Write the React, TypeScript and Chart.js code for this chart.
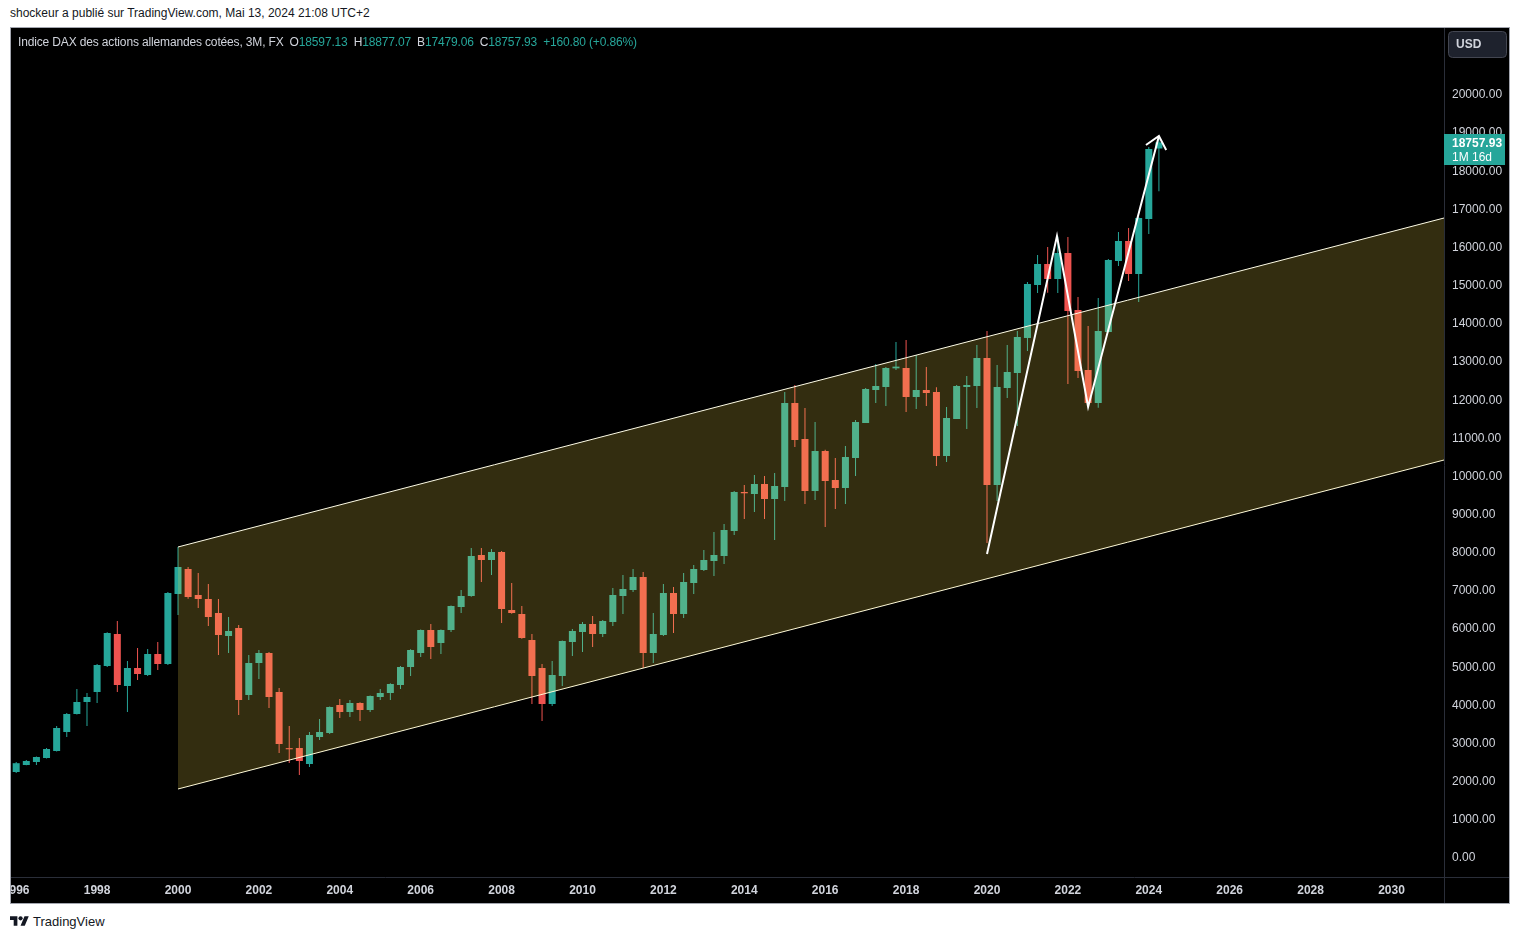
import React, { useEffect, useRef } from "react";
import { Chart, registerables } from "chart.js";

Chart.register(...registerables);

const FONT = "'Liberation Sans', Arial, sans-serif";

// Quarter start (decimal year) of each 3M candle
const quarters: number[] = [
  1996, 1996.25, 1996.5, 1996.75,
  1997, 1997.25, 1997.5, 1997.75,
  1998, 1998.25, 1998.5, 1998.75,
  1999, 1999.25, 1999.5, 1999.75,
  2000, 2000.25, 2000.5, 2000.75,
  2001, 2001.25, 2001.5, 2001.75,
  2002, 2002.25, 2002.5, 2002.75,
  2003, 2003.25, 2003.5, 2003.75,
  2004, 2004.25, 2004.5, 2004.75,
  2005, 2005.25, 2005.5, 2005.75,
  2006, 2006.25, 2006.5, 2006.75,
  2007, 2007.25, 2007.5, 2007.75,
  2008, 2008.25, 2008.5, 2008.75,
  2009, 2009.25, 2009.5, 2009.75,
  2010, 2010.25, 2010.5, 2010.75,
  2011, 2011.25, 2011.5, 2011.75,
  2012, 2012.25, 2012.5, 2012.75,
  2013, 2013.25, 2013.5, 2013.75,
  2014, 2014.25, 2014.5, 2014.75,
  2015, 2015.25, 2015.5, 2015.75,
  2016, 2016.25, 2016.5, 2016.75,
  2017, 2017.25, 2017.5, 2017.75,
  2018, 2018.25, 2018.5, 2018.75,
  2019, 2019.25, 2019.5, 2019.75,
  2020, 2020.25, 2020.5, 2020.75,
  2021, 2021.25, 2021.5, 2021.75,
  2022, 2022.25, 2022.5, 2022.75,
  2023, 2023.25, 2023.5, 2023.75,
  2024, 2024.25,
];

const opens: number[] = [
  2254, 2438, 2516, 2621,
  2805, 3303, 3775, 4089,
  4351, 5033, 5871, 4508,
  4980, 4797, 5347, 5085,
  6920, 7575, 6894, 6789,
  6422, 5819, 6029, 4273,
  5111, 5374, 4351, 2880,
  2883, 2464, 3172, 3277,
  4010, 3827, 4063, 3880,
  4220, 4325, 4535, 5007,
  5374, 5977, 5636, 5977,
  6579, 6868, 7942, 7811,
  8021, 6500, 6396, 5714,
  4980, 4037, 4771, 5662,
  5924, 6134, 5872, 6186,
  6868, 7025, 7366, 5374,
  5845, 6946, 6396, 7208,
  7549, 7785, 7916, 8571,
  9594, 9541, 9803, 9410,
  9725, 11927, 10983, 9620,
  10668, 9908, 9698, 10485,
  11402, 12267, 12346, 12835,
  12844, 12084, 12267, 12215,
  10537, 11507, 12346, 12372,
  13106, 9777, 12320, 12713,
  13631, 15020, 15570, 15177,
  15858, 14364, 12792, 11927,
  13788, 15649, 16173, 15308,
  16750, 18597.13,
];

const highs: number[] = [
  2516, 2569, 2660, 2883,
  3460, 3801, 4430, 4325,
  5085, 5920, 6212, 5164,
  5505, 5478, 5662, 6973,
  8152, 7628, 7470, 7182,
  6789, 6317, 6107, 5321,
  5452, 5400, 4456, 3460,
  3145, 3303, 3644, 3970,
  4168, 4142, 4080, 4260,
  4430, 4580, 5030, 5470,
  5990, 6134, 5990, 6620,
  7025, 8126, 8126, 8100,
  8050, 7208, 6605, 5871,
  5085, 5164, 5700, 6003,
  6186, 6343, 6238, 7077,
  7418, 7575, 7497, 6422,
  7182, 7103, 7470, 7680,
  8073, 8545, 8755, 9620,
  9777, 10039, 10013, 10092,
  12215, 12398, 11796, 11429,
  10700, 10485, 10800, 11480,
  12320, 12949, 12870, 13526,
  13578, 13185, 12870, 12340,
  11822, 12400, 12634, 13447,
  13814, 12923, 13447, 13814,
  15100, 15806, 16016, 16290,
  16278, 14705, 13945, 14679,
  15700, 16409, 16514, 16800,
  18640, 18877.07,
];

const lows: number[] = [
  2228, 2430, 2438, 2610,
  2790, 3172, 3760, 3460,
  4063, 5007, 4351, 3827,
  4666, 4771, 4928, 5059,
  6370, 6795, 6553, 6081,
  5321, 5374, 3748, 4142,
  4692, 3932, 2752, 2490,
  2176, 2385, 3093, 3250,
  3670, 3696, 3591, 3827,
  4142, 4142, 4430, 4771,
  5269, 5216, 5347, 5924,
  6422, 6850, 7235, 7418,
  6160, 6400, 5750, 4037,
  3591, 3984, 4509, 5295,
  5400, 5531, 5793, 6081,
  6396, 6973, 4980, 5111,
  5820, 5898, 6291, 6920,
  7523, 7392, 7706, 8467,
  8886, 9069, 8886, 8336,
  9358, 10773, 9279, 9384,
  8676, 9148, 9279, 10013,
  11400, 11927, 11848, 12792,
  11691, 11770, 11848, 10275,
  10380, 11507, 11245, 11796,
  8256, 9358, 12058, 11324,
  13290, 14810, 14818, 14810,
  12425, 12582, 11822, 11800,
  13780, 15518, 15124, 14574,
  16356, 17479.06,
];

const closes: number[] = [
  2485, 2543, 2647, 2857,
  3408, 3775, 4089, 4220,
  5059, 5898, 4535, 4980,
  4823, 5347, 5085, 6946,
  7628, 6841, 6789, 6317,
  5845, 5950, 4142, 5111,
  5374, 4220, 2988, 2850,
  2543, 3224, 3303, 3958,
  3827, 4063, 3880, 4246,
  4325, 4561, 5007, 5452,
  5977, 5531, 5977, 6605,
  6868, 7916, 7811, 8021,
  6527, 6422, 5767, 4771,
  4037, 4797, 5688, 5950,
  6134, 5872, 6212, 6894,
  7051, 7366, 5374, 5872,
  6946, 6396, 7235, 7575,
  7811, 7942, 8598, 9594,
  9560, 9803, 9410, 9751,
  11927, 10957, 9620, 10668,
  9882, 9698, 10511, 11429,
  12294, 12372, 12844, 12880,
  12084, 12267, 12189, 10537,
  11534, 12372, 12398, 13106,
  9777, 12346, 12739, 13657,
  15046, 15570, 15177, 15858,
  14338, 12765, 11927, 13814,
  15675, 16173, 15308, 16776,
  18585, 18757.93,
];

// Parallel channel (drawn object)
const channelX: number[] = [2000, 2031.3];
const channelUpper: number[] = [8152, 16776];
const channelLower: number[] = [1809, 10433];

// White zig-zag arrow
const zigX: number[] = [2020.0, 2021.73, 2022.5, 2024.25];
const zigY: number[] = [7968, 16304, 11822, 18925];
const arrowX: number[] = [2023.93, 2024.25, 2024.43];
const arrowY: number[] = [18689, 18925, 18558];

// Axis ticks
const xTicks: number[] = [
  1996, 1998, 2000, 2002, 2004, 2006, 2008, 2010, 2012,
  2014, 2016, 2018, 2020, 2022, 2024, 2026, 2028, 2030,
];
const yTicks: number[] = [
  0, 1000, 2000, 3000, 4000, 5000, 6000, 7000, 8000, 9000, 10000,
  11000, 12000, 13000, 14000, 15000, 16000, 17000, 18000, 19000, 20000,
];

const X_MIN = 1995.8715;
const X_MAX = 2031.298;
const Y_MIN = -498;
const Y_MAX = 21756;

const UP = "#26a69a";
const DOWN = "#ef5350";

const overlayPlugin = {
  id: "tvOverlay",
  afterDraw(chart: any) {
    const { ctx, chartArea, scales } = chart;
    ctx.save();
    // separators
    ctx.strokeStyle = "#2a2e39";
    ctx.lineWidth = 1;
    ctx.beginPath();
    ctx.moveTo(Math.round(chartArea.right) + 0.5, 0);
    ctx.lineTo(Math.round(chartArea.right) + 0.5, chart.height);
    ctx.moveTo(0, Math.round(chartArea.bottom) + 0.5);
    ctx.lineTo(chart.width, Math.round(chartArea.bottom) + 0.5);
    ctx.stroke();

    // USD box
    const bx = chartArea.right + 4;
    const by = 3;
    const bw = 58;
    const bh = 26;
    ctx.fillStyle = "#1e222d";
    ctx.strokeStyle = "#434651";
    ctx.beginPath();
    if (ctx.roundRect) ctx.roundRect(bx + 0.5, by + 0.5, bw, bh, 4);
    else ctx.rect(bx + 0.5, by + 0.5, bw, bh);
    ctx.fill();
    ctx.stroke();
    ctx.fillStyle = "#d1d4dc";
    ctx.font = `bold 12px ${FONT}`;
    ctx.textBaseline = "middle";
    ctx.textAlign = "left";
    ctx.fillText("USD", bx + 8, by + bh / 2 + 1);

    // last price label
    const last = closes[closes.length - 1];
    const y = scales.y.getPixelForValue(last);
    ctx.fillStyle = UP;
    ctx.fillRect(chartArea.right, Math.round(y - 8), 61, 31);
    ctx.fillStyle = "#ffffff";
    ctx.font = `bold 12px ${FONT}`;
    ctx.fillText(last.toFixed(2), chartArea.right + 8, y + 1);
    ctx.font = `12px ${FONT}`;
    ctx.fillText("1M 16d", chartArea.right + 8, y + 15);
    ctx.restore();
  },
};

function ChartCanvas() {
  const ref = useRef<HTMLCanvasElement | null>(null);
  useEffect(() => {
    if (!ref.current) return;
    Chart.defaults.font.family = FONT;
    const colors = quarters.map((_, i) => (closes[i] >= opens[i] ? UP : DOWN));
    const chart = new Chart(ref.current, {
      type: "bar",
      data: {
        datasets: [
          {
            type: "line",
            label: "zigzag",
            data: zigX.map((x, i) => ({ x, y: zigY[i] })),
            borderColor: "#ffffff",
            borderWidth: 2,
            pointRadius: 0,
            tension: 0,
            fill: false,
            borderJoinStyle: "miter",
            order: 0,
          },
          {
            type: "line",
            label: "arrow",
            data: arrowX.map((x, i) => ({ x, y: arrowY[i] })),
            borderColor: "#ffffff",
            borderWidth: 2,
            pointRadius: 0,
            tension: 0,
            fill: false,
            borderJoinStyle: "miter",
            order: 0,
          },
          {
            type: "line",
            label: "channelUpper",
            data: channelX.map((x, i) => ({ x, y: channelUpper[i] })),
            borderColor: "#fffde7",
            borderWidth: 1,
            pointRadius: 0,
            tension: 0,
            fill: "+1",
            backgroundColor: "rgba(255, 225, 80, 0.2)",
            order: 1,
          },
          {
            type: "line",
            label: "channelLower",
            data: channelX.map((x, i) => ({ x, y: channelLower[i] })),
            borderColor: "#fffde7",
            borderWidth: 1,
            pointRadius: 0,
            tension: 0,
            fill: false,
            order: 1,
          },
          {
            type: "bar",
            label: "wicks",
            data: quarters.map((x, i) => ({ x, y: [lows[i], highs[i]] })),
            backgroundColor: colors,
            barThickness: 1,
            grouped: false,
            borderWidth: 0,
            inflateAmount: 0,
            order: 2,
          },
          {
            type: "bar",
            label: "bodies",
            data: quarters.map((x, i) => ({ x, y: [opens[i], closes[i]] })),
            backgroundColor: colors,
            barThickness: 7,
            grouped: false,
            borderWidth: 0,
            inflateAmount: 0,
            minBarLength: 1,
            order: 2,
          },
        ] as any,
      },
      options: {
        animation: false,
        responsive: false,
        maintainAspectRatio: false,
        layout: { padding: 0 },
        plugins: {
          legend: { display: false },
          tooltip: { enabled: false },
        },
        scales: {
          x: {
            type: "linear",
            min: X_MIN,
            max: X_MAX,
            offset: false,
            grid: { display: false, drawTicks: false },
            border: { display: false },
            afterBuildTicks: (s: any) => {
              s.ticks = xTicks.map((v) => ({ value: v }));
            },
            ticks: {
              autoSkip: false,
              maxRotation: 0,
              color: "#d1d4dc",
              font: { size: 12, weight: "bold" },
              padding: 6,
              callback: (v: any) => String(Math.round(Number(v))),
            },
            afterFit: (s: any) => {
              s.height = 26;
              s.paddingLeft = 0;
              s.paddingRight = 0;
            },
          },
          y: {
            type: "linear",
            position: "right",
            min: Y_MIN,
            max: Y_MAX,
            beginAtZero: false,
            grid: { display: false, drawTicks: false },
            border: { display: false },
            afterBuildTicks: (s: any) => {
              s.ticks = yTicks.map((v) => ({ value: v }));
            },
            ticks: {
              autoSkip: false,
              color: "#d1d4dc",
              font: { size: 12 },
              padding: 8,
              callback: (v: any) => Number(v).toFixed(2),
            },
            afterFit: (s: any) => {
              s.width = 65;
              s.paddingTop = 0;
              s.paddingBottom = 0;
            },
          },
        } as any,
      },
      plugins: [overlayPlugin],
    });
    return () => chart.destroy();
  }, []);
  return <canvas ref={ref} width={1498} height={875} style={{ display: "block" }} />;
}

const lastIdx = closes.length - 1;

export default function App() {
  const teal = "#26a69a";
  const lab = "#d1d4dc";
  const gap = 6;
  return (
    <div style={{ fontFamily: FONT }}>
      <div
        style={{
          position: "absolute",
          left: 10,
          top: 6,
          fontSize: 12,
          color: "#131722",
          whiteSpace: "nowrap",
        }}
      >
        shockeur a publié sur TradingView.com, Mai 13, 2024 21:08 UTC+2
      </div>
      <div
        style={{
          position: "absolute",
          left: 10,
          top: 27,
          width: 1500,
          height: 877,
          boxSizing: "border-box",
          border: "1px solid #a3a6af",
          background: "#000000",
          overflow: "hidden",
        }}
      >
        <ChartCanvas />
        <div
          style={{
            position: "absolute",
            left: 7,
            top: 7,
            fontSize: 12,
            color: lab,
            whiteSpace: "nowrap",
            letterSpacing: -0.15,
          }}
        >
          <span>Indice DAX des actions allemandes cotées, 3M, FX</span>
          <span style={{ marginLeft: gap }}>O</span>
          <span style={{ color: teal }}>{opens[lastIdx].toFixed(2)}</span>
          <span style={{ marginLeft: gap }}>H</span>
          <span style={{ color: teal }}>{highs[lastIdx].toFixed(2)}</span>
          <span style={{ marginLeft: gap }}>B</span>
          <span style={{ color: teal }}>{lows[lastIdx].toFixed(2)}</span>
          <span style={{ marginLeft: gap }}>C</span>
          <span style={{ color: teal }}>{closes[lastIdx].toFixed(2)}</span>
          <span style={{ color: teal, marginLeft: gap }}>
            +{(closes[lastIdx] - opens[lastIdx]).toFixed(2)} (+0.86%)
          </span>
        </div>
      </div>
      <div
        style={{
          position: "absolute",
          left: 10,
          top: 914,
          display: "flex",
          alignItems: "center",
          color: "#131722",
          fontSize: 13,
        }}
      >
        <svg width="19" height="15" viewBox="0 0 36 28" style={{ marginRight: 4 }}>
          <path d="M14 22H7V11H0V4h14v18zM28 22h-8l7.5-18h8L28 22z" fill="#131722" />
          <circle cx="20" cy="8" r="4" fill="#131722" />
        </svg>
        <span>TradingView</span>
      </div>
    </div>
  );
}
